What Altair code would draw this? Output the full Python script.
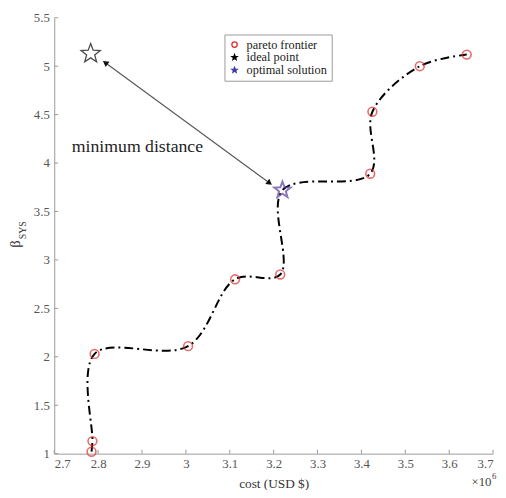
import math
import altair as alt
import pandas as pd

# ---- data (cost in 1e6 USD, beta_SYS) ----
pareto_cost = [2.785, 2.787, 2.792, 3.005, 3.112, 3.215, 3.420, 3.425, 3.533, 3.640]
pareto_beta = [1.02, 1.13, 2.03, 2.11, 2.80, 2.85, 3.89, 4.53, 5.00, 5.12]
curve_cost = [2.785, 2.787, 2.792, 3.005, 3.112, 3.215, 3.220, 3.420, 3.425, 3.533, 3.640]
curve_beta = [1.02, 1.13, 2.03, 2.11, 2.80, 2.85, 3.72, 3.89, 4.53, 5.00, 5.12]
ideal_cost = [2.783]
ideal_beta = [5.13]
optimal_cost = [3.220]
optimal_beta = [3.72]
arrow_cost = [3.189, 2.818]
arrow_beta = [3.80, 5.03]
legend_labels = ["pareto frontier", "ideal point", "optimal solution"]
x_ticks = [2.7, 2.8, 2.9, 3.0, 3.1, 3.2, 3.3, 3.4, 3.5, 3.6, 3.7]
y_ticks = [1, 1.5, 2, 2.5, 3, 3.5, 4, 4.5, 5, 5.5]
annot_text = ["minimum distance"]
annot_cost = [2.74]
annot_beta = [4.16]

W, H = 446, 443
XMIN, XMAX, YMIN, YMAX = 2.7, 3.7, 1.0, 5.5
SERIF = "Liberation Serif"

# star path in unit box
pts = []
for i in range(10):
    r = 1.0 if i % 2 == 0 else 0.42
    a = -math.pi / 2 + i * math.pi / 5
    pts.append(f"{r*math.cos(a):.3f},{r*math.sin(a):.3f}")
STAR = "M" + "L".join(pts) + "Z"

xs = alt.Scale(domain=[XMIN, XMAX], nice=False, zero=False)
ys = alt.Scale(domain=[YMIN, YMAX], nice=False, zero=False)

x_axis = alt.Axis(values=x_ticks, format="~g", title="cost (USD $)", ticks=False,
                  labelPadding=4, titlePadding=6, grid=False)
y_axis = alt.Axis(values=y_ticks, format="~g", title=None, ticks=False,
                  labelPadding=5, grid=False)

curve_df = pd.DataFrame({"cost": curve_cost, "beta": curve_beta, "order": range(len(curve_cost))})
curve = alt.Chart(curve_df).mark_line(
    color="black", strokeWidth=2, strokeDash=[9, 4, 2, 4], interpolate="catmull-rom"
).encode(
    x=alt.X("cost:Q", scale=xs, axis=x_axis),
    y=alt.Y("beta:Q", scale=ys, axis=y_axis),
    order="order:O",
)

pareto_df = pd.DataFrame({"cost": pareto_cost, "beta": pareto_beta})
pareto = alt.Chart(pareto_df).mark_point(
    shape="circle", filled=False, color="#d9302c", strokeWidth=1.6, size=80
).encode(x=alt.X("cost:Q", scale=xs), y=alt.Y("beta:Q", scale=ys))

ideal_df = pd.DataFrame({"cost": ideal_cost, "beta": ideal_beta})
ideal = alt.Chart(ideal_df).mark_point(
    shape=STAR, filled=False, color="black", strokeWidth=1.3, size=420
).encode(x=alt.X("cost:Q", scale=xs), y=alt.Y("beta:Q", scale=ys))

opt_df = pd.DataFrame({"cost": optimal_cost, "beta": optimal_beta})
optimal = alt.Chart(opt_df).mark_point(
    shape=STAR, filled=False, color="#5b3f9e", strokeWidth=2, size=300
).encode(x=alt.X("cost:Q", scale=xs), y=alt.Y("beta:Q", scale=ys))

# arrow
arrow_df = pd.DataFrame({"x": [arrow_cost[0]], "y": [arrow_beta[0]],
                         "x2": [arrow_cost[1]], "y2": [arrow_beta[1]]})
arrow_line = alt.Chart(arrow_df).mark_rule(color="#555555", strokeWidth=1.1).encode(
    x=alt.X("x:Q", scale=xs), y=alt.Y("y:Q", scale=ys), x2="x2:Q", y2="y2:Q")

pxu = W / (XMAX - XMIN)
pyu = H / (YMAX - YMIN)
dx = (arrow_cost[1] - arrow_cost[0]) * pxu
dy = -(arrow_beta[1] - arrow_beta[0]) * pyu
ang_to_ideal = math.degrees(math.atan2(dx, -dy)) % 360
ang_to_opt = (ang_to_ideal + 180) % 360
heads_df = pd.DataFrame({"cost": [arrow_cost[1], arrow_cost[0]],
                         "beta": [arrow_beta[1], arrow_beta[0]],
                         "ang": [ang_to_ideal, ang_to_opt]})
heads = alt.Chart(heads_df).mark_point(
    shape="triangle", filled=True, color="#111111", size=45, opacity=1
).encode(x=alt.X("cost:Q", scale=xs), y=alt.Y("beta:Q", scale=ys),
         angle=alt.Angle("ang:Q", scale=None))

annot_df = pd.DataFrame({"cost": annot_cost, "beta": annot_beta, "t": annot_text})
annot = alt.Chart(annot_df).mark_text(
    align="left", baseline="middle", font=SERIF, fontSize=18, color="#222222"
).encode(x=alt.X("cost:Q", scale=xs), y=alt.Y("beta:Q", scale=ys), text="t:N")

# inward tick marks
xt_df = pd.DataFrame({"v": x_ticks})
xticks = alt.Chart(xt_df).mark_rule(color="#999999", strokeWidth=1).encode(
    x=alt.X("v:Q", scale=xs), y=alt.value(H), y2=alt.value(H - 4))
yt_df = pd.DataFrame({"v": y_ticks})
yticks = alt.Chart(yt_df).mark_rule(color="#999999", strokeWidth=1).encode(
    y=alt.Y("v:Q", scale=ys), x=alt.value(0), x2=alt.value(4))

# legend (from an invisible layer)
leg_df = pd.DataFrame({"series": legend_labels,
                       "cost": [pareto_cost[0], ideal_cost[0], optimal_cost[0]],
                       "beta": [pareto_beta[0], ideal_beta[0], optimal_beta[0]]})
leg = alt.Chart(leg_df).mark_point(size=0, opacity=0, strokeWidth=1.3).encode(
    x=alt.X("cost:Q", scale=xs), y=alt.Y("beta:Q", scale=ys),
    shape=alt.Shape("series:N", scale=alt.Scale(domain=legend_labels,
                    range=["circle", STAR, STAR]),
                    legend=alt.Legend(title=None, orient="none", legendX=173, legendY=17,
                                      symbolOpacity=1, symbolSize=30, symbolStrokeWidth=1.3,
                                      labelFont=SERIF, labelFontSize=12.5, labelColor="#222222",
                                      strokeColor="#999999", padding=4, rowPadding=0,
                                      labelOffset=6, fillColor="white")),
    stroke=alt.Stroke("series:N", scale=alt.Scale(domain=legend_labels,
                      range=["#d9302c", "#000000", "#3b3ba8"]), legend=None),
    fill=alt.Fill("series:N", scale=alt.Scale(domain=legend_labels,
                  range=["transparent", "#000000", "#3b3ba8"]), legend=None),
)

# y title beta_SYS and x10^6 multiplier
beta_t = alt.Chart(pd.DataFrame({"t": ["β"]})).mark_text(
    font=SERIF, fontSize=15, angle=270, color="#333333", baseline="middle", align="center"
).encode(text="t:N", x=alt.value(-40), y=alt.value(230))
sys_t = alt.Chart(pd.DataFrame({"t": ["SYS"]})).mark_text(
    font=SERIF, fontSize=10, angle=270, color="#333333", baseline="middle", align="center"
).encode(text="t:N", x=alt.value(-32), y=alt.value(216))
mult_t = alt.Chart(pd.DataFrame({"t": ["×10"]})).mark_text(
    font=SERIF, fontSize=13, color="#444444", baseline="middle", align="left"
).encode(text="t:N", x=alt.value(424), y=alt.value(H + 29))
exp_t = alt.Chart(pd.DataFrame({"t": ["6"]})).mark_text(
    font=SERIF, fontSize=9, color="#444444", baseline="middle", align="left"
).encode(text="t:N", x=alt.value(445), y=alt.value(H + 23))

chart = alt.layer(
    xticks, yticks, curve, arrow_line, heads, pareto, ideal, optimal, annot, leg,
    beta_t, sys_t, mult_t, exp_t
).resolve_scale(shape="independent", stroke="independent", fill="independent").properties(
    width=W, height=H,
    autosize=alt.AutoSizeParams(type="none"),
    padding={"left": 47, "top": 6, "right": 5, "bottom": 33},
).configure_view(stroke=None).configure_axis(
    domainColor="#9a9a9a", domainWidth=1, labelFont=SERIF, labelFontSize=13,
    labelColor="#555555", titleFont=SERIF, titleFontSize=13.5, titleColor="#333333",
    titleFontWeight="normal",
)

chart.save("out.html", embed_options={"renderer": "svg", "actions": False})
